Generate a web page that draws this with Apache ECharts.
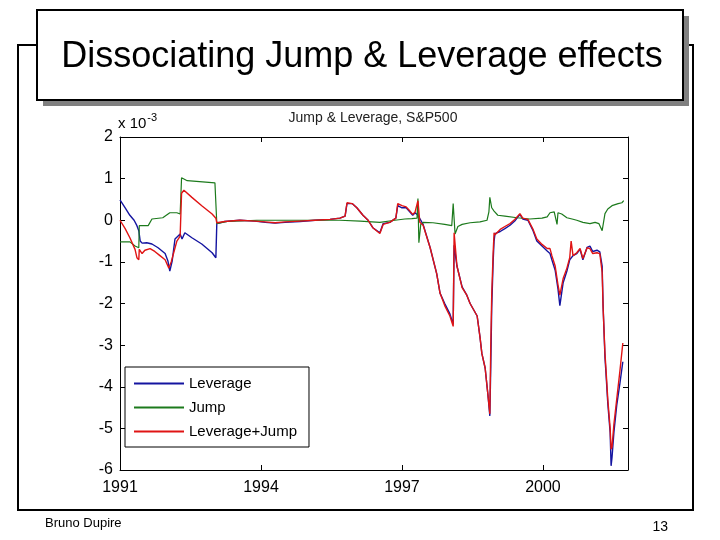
<!DOCTYPE html>
<html>
<head>
<meta charset="utf-8">
<script src="https://cdn.jsdelivr.net/npm/echarts@6/dist/echarts.min.js"></script>
<style>
  html, body { margin: 0; padding: 0; background: #fff; }
  #chart { width: 720px; height: 540px; }
</style>
</head>
<body>
<div id="chart"></div>
<script>
// ---- Data (values in units of 1e-3) ----
const seriesNames = ['Leverage', 'Jump', 'Leverage+Jump'];
const yTicks = [-6, -5, -4, -3, -2, -1, 0, 1, 2];
const xTickYears = [1991, 1994, 1997, 2000];

const leverageYears = [1991.00,1991.11,1991.21,1991.30,1991.36,1991.40,1991.43,1991.47,1991.57,1991.60,1991.68,1991.81,1991.96,1992.02,1992.06,1992.11,1992.17,1992.28,1992.32,1992.38,1992.53,1992.74,1992.96,1993.04,1993.06,1993.23,1993.55,1993.87,1994.09,1994.30,1994.51,1994.83,1995.15,1995.47,1995.68,1995.79,1995.83,1995.94,1996.04,1996.17,1996.28,1996.38,1996.53,1996.60,1996.74,1996.87,1996.91,1997.00,1997.09,1997.17,1997.23,1997.28,1997.34,1997.45,1997.60,1997.74,1997.81,1997.91,1998.02,1998.09,1998.11,1998.17,1998.28,1998.38,1998.45,1998.60,1998.66,1998.70,1998.77,1998.83,1998.87,1998.89,1998.91,1998.94,1998.96,1998.98,1999.09,1999.19,1999.30,1999.40,1999.51,1999.57,1999.68,1999.79,1999.87,1999.98,2000.09,2000.15,2000.19,2000.26,2000.32,2000.36,2000.43,2000.51,2000.57,2000.64,2000.72,2000.79,2000.85,2000.94,2001.00,2001.06,2001.15,2001.21,2001.26,2001.28,2001.32,2001.34,2001.38,2001.43,2001.45,2001.47,2001.51,2001.57,2001.64,2001.70];
const leverageValues = [0.49,0.30,0.12,0.00,-0.13,-0.25,-0.50,-0.55,-0.54,-0.52,-0.57,-0.66,-0.80,-0.98,-1.22,-0.98,-0.45,-0.33,-0.45,-0.30,-0.42,-0.57,-0.78,-0.90,-0.08,-0.03,0.00,-0.02,-0.05,-0.07,-0.05,-0.03,0.00,0.02,0.05,0.10,0.40,0.40,0.30,0.12,0.00,-0.18,-0.30,-0.08,-0.05,0.05,0.35,0.30,0.30,0.20,0.12,0.18,0.12,-0.10,-0.66,-1.29,-1.75,-2.00,-2.25,-2.50,-0.60,-1.10,-1.60,-1.80,-2.00,-2.30,-2.80,-3.20,-3.55,-4.20,-4.70,-3.50,-2.10,-1.00,-0.50,-0.32,-0.27,-0.20,-0.12,-0.02,0.14,0.03,0.00,-0.25,-0.50,-0.62,-0.74,-0.80,-0.95,-1.20,-1.65,-2.05,-1.50,-1.22,-0.95,-0.85,-0.80,-0.70,-0.95,-0.65,-0.62,-0.75,-0.72,-0.76,-1.10,-2.05,-3.30,-3.65,-4.40,-5.10,-5.90,-5.70,-5.10,-4.45,-3.90,-3.40];

const jumpYears = [1991.00,1991.21,1991.32,1991.40,1991.41,1991.60,1991.68,1991.91,1992.06,1992.21,1992.28,1992.31,1992.43,1993.02,1993.04,1993.06,1993.28,1993.91,1994.83,1995.68,1996.11,1996.53,1996.85,1997.06,1997.21,1997.32,1997.34,1997.36,1997.40,1997.45,1997.66,1997.91,1998.06,1998.09,1998.13,1998.19,1998.28,1998.45,1998.66,1998.81,1998.85,1998.87,1998.91,1998.96,1999.04,1999.19,1999.45,1999.72,1999.98,2000.09,2000.15,2000.24,2000.28,2000.30,2000.32,2000.40,2000.51,2000.62,2000.72,2000.85,2001.00,2001.11,2001.19,2001.26,2001.32,2001.38,2001.47,2001.60,2001.68,2001.72];
const jumpValues = [-0.52,-0.52,-0.62,-0.66,-0.13,-0.13,0.03,0.06,0.18,0.18,0.15,1.02,0.95,0.90,0.90,-0.08,-0.03,0.00,0.00,0.00,-0.02,-0.05,0.00,0.03,0.04,0.05,0.52,-0.54,-0.10,-0.05,-0.06,-0.10,-0.13,0.40,-0.33,-0.15,-0.10,-0.06,-0.04,0.00,0.20,0.55,0.30,0.22,0.12,0.10,0.06,0.03,0.05,0.08,0.18,0.20,0.22,-0.10,0.18,0.15,0.06,0.03,0.00,-0.05,-0.08,-0.05,-0.08,-0.25,0.16,0.27,0.35,0.40,0.42,0.47];

const sumYears = [1991.00,1991.11,1991.21,1991.32,1991.36,1991.40,1991.41,1991.47,1991.53,1991.64,1991.74,1991.85,1991.96,1992.04,1992.09,1992.15,1992.21,1992.28,1992.30,1992.31,1992.36,1992.53,1992.74,1992.96,1993.04,1993.06,1993.23,1993.55,1993.87,1994.09,1994.30,1994.51,1994.83,1995.15,1995.47,1995.68,1995.79,1995.83,1995.94,1996.04,1996.17,1996.28,1996.38,1996.53,1996.60,1996.74,1996.87,1996.91,1997.00,1997.09,1997.17,1997.23,1997.28,1997.34,1997.38,1997.45,1997.60,1997.74,1997.81,1997.91,1998.02,1998.09,1998.11,1998.17,1998.28,1998.38,1998.45,1998.60,1998.66,1998.70,1998.77,1998.83,1998.87,1998.89,1998.91,1998.94,1998.96,1998.98,1999.09,1999.19,1999.30,1999.40,1999.51,1999.57,1999.68,1999.79,1999.87,1999.98,2000.09,2000.15,2000.19,2000.26,2000.32,2000.36,2000.43,2000.51,2000.57,2000.60,2000.64,2000.72,2000.79,2000.85,2000.94,2001.00,2001.06,2001.15,2001.21,2001.26,2001.28,2001.32,2001.34,2001.38,2001.43,2001.45,2001.47,2001.51,2001.57,2001.64,2001.70];
const sumValues = [0.00,-0.20,-0.42,-0.70,-0.90,-0.95,-0.70,-0.80,-0.72,-0.68,-0.75,-0.85,-0.95,-1.15,-1.00,-0.75,-0.50,-0.38,-0.35,0.65,0.72,0.55,0.35,0.15,0.05,-0.06,-0.03,0.00,-0.02,-0.04,-0.06,-0.04,-0.02,0.00,0.02,0.05,0.10,0.42,0.40,0.30,0.12,0.00,-0.18,-0.32,-0.10,-0.05,0.05,0.40,0.35,0.32,0.22,0.14,0.20,0.47,-0.05,-0.12,-0.66,-1.29,-1.75,-2.05,-2.30,-2.55,-0.30,-1.10,-1.62,-1.80,-2.00,-2.30,-2.80,-3.20,-3.55,-4.20,-4.65,-3.00,-1.80,-0.80,-0.30,-0.35,-0.22,-0.15,-0.08,0.02,0.16,0.05,0.02,-0.22,-0.45,-0.58,-0.68,-0.68,-0.85,-1.10,-1.55,-1.80,-1.40,-1.15,-0.90,-0.50,-0.85,-0.78,-0.68,-0.92,-0.66,-0.68,-0.80,-0.78,-0.80,-1.25,-2.10,-3.20,-3.55,-4.30,-5.00,-5.50,-5.45,-4.90,-4.30,-3.60,-2.95];

function pairs(xs, ys) { return xs.map((x, i) => [x, ys[i]]); }

const FONT = '"Liberation Sans", Arial, sans-serif';
const chart = echarts.init(document.getElementById('chart'), null, { renderer: 'canvas' });

function axisCommon() {
  return {
    axisLine: { show: true, onZero: false, lineStyle: { color: '#000', width: 1 } },
    axisTick: { show: true, inside: true, length: 5, lineStyle: { color: '#000' } },
    splitLine: { show: false }
  };
}

chart.setOption({
  backgroundColor: '#fff',
  animation: false,
  grid: { left: 120, right: 92, top: 137, bottom: 70, containLabel: false },
  xAxis: [
    Object.assign({
      type: 'value', min: 1991, max: 2001.81, interval: 3, position: 'bottom',
      axisLabel: { color: '#000', fontSize: 16, fontFamily: FONT, margin: 10,
        formatter: v => (xTickYears.indexOf(Math.round(v)) >= 0 && Math.abs(v - Math.round(v)) < 1e-6) ? String(Math.round(v)) : '' }
    }, axisCommon()),
    Object.assign({
      type: 'value', min: 1991, max: 2001.81, interval: 3, position: 'top',
      axisLabel: { show: false }
    }, axisCommon())
  ],
  yAxis: [
    Object.assign({
      type: 'value', min: yTicks[0], max: yTicks[yTicks.length - 1], interval: 1, position: 'left',
      axisLabel: { color: '#000', fontSize: 16, fontFamily: FONT, margin: 7 }
    }, axisCommon()),
    Object.assign({
      type: 'value', min: yTicks[0], max: yTicks[yTicks.length - 1], interval: 1, position: 'right',
      axisLabel: { show: false }
    }, axisCommon())
  ],
  legend: {
    orient: 'vertical', left: 125, top: 367,
    data: seriesNames,
    icon: 'rect',
    backgroundColor: '#fff', borderColor: '#000', borderWidth: 1,
    padding: [8, 12, 7, 9], itemWidth: 50, itemHeight: 2, itemGap: 7,
    textStyle: { color: '#000', fontSize: 15, fontFamily: FONT, lineHeight: 17 }
  },
  series: [
    { name: seriesNames[0], type: 'line', data: pairs(leverageYears, leverageValues), symbol: 'none',
      lineStyle: { color: '#1414a0', width: 1.4 }, itemStyle: { color: '#1414a0' }, z: 2 },
    { name: seriesNames[1], type: 'line', data: pairs(jumpYears, jumpValues), symbol: 'none',
      lineStyle: { color: '#1c7a1c', width: 1.2 }, itemStyle: { color: '#1c7a1c' }, z: 3 },
    { name: seriesNames[2], type: 'line', data: pairs(sumYears, sumValues), symbol: 'none',
      lineStyle: { color: '#e01414', width: 1.4 }, itemStyle: { color: '#e01414' }, z: 4 }
  ],
  graphic: [
    // outer slide frame
    { type: 'polyline', z: -10, shape: { points: [[37, 45], [18, 45], [18, 510], [693, 510], [693, 45], [688, 45]] },
      style: { stroke: '#000', lineWidth: 2, fill: null } },
    // title box shadow and box
    { type: 'rect', z: 100, shape: { x: 43, y: 16, width: 646, height: 90 }, style: { fill: '#808080' } },
    { type: 'rect', z: 101, shape: { x: 37, y: 10, width: 646, height: 90 }, style: { fill: '#fff', stroke: '#000', lineWidth: 2 } },
    { type: 'text', z: 102, x: 362, y: 57, style: { text: 'Dissociating Jump & Leverage effects', fill: '#000',
        font: '36px ' + FONT, textAlign: 'center', textVerticalAlign: 'middle' } },
    // chart title
    { type: 'text', z: 50, x: 373, y: 118, style: { text: 'Jump & Leverage, S&P500', fill: '#222',
        font: '14px ' + FONT, textAlign: 'center', textVerticalAlign: 'middle' } },
    // exponent label
    { type: 'text', z: 50, x: 118, y: 124, style: {
        text: '{b|x 10}{s|-3}', textVerticalAlign: 'middle',
        rich: { b: { fontSize: 15, fontFamily: FONT, fill: '#000', color: '#000' },
                s: { fontSize: 11, fontFamily: FONT, color: '#000', fill: '#000', padding: [0, 0, 12, 1] } } } },
    // footer
    { type: 'text', z: 50, x: 45, y: 523, style: { text: 'Bruno Dupire', fill: '#000', font: '13px ' + FONT, textVerticalAlign: 'middle' } },
    { type: 'text', z: 50, x: 668, y: 527, style: { text: '13', fill: '#000', font: '14px ' + FONT, textAlign: 'right', textVerticalAlign: 'middle' } }
  ]
});
</script>
</body>
</html>
